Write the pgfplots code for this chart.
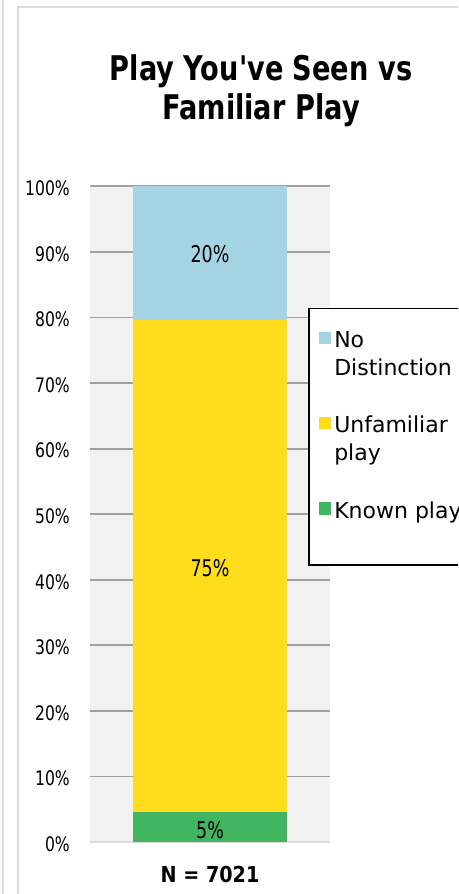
\documentclass[border=0pt]{standalone}
\usepackage{pgfplots}
\pgfplotsset{compat=1.18}
\usepackage{fontspec}
\setmainfont{DejaVu Sans}
\newfontfamily\tickfont{DejaVu Sans}[FakeStretch=0.78]
\newfontfamily\barfont{DejaVu Sans}[FakeStretch=0.76]
\newfontfamily\titlefont{DejaVu Sans}[FakeStretch=0.80]
\newfontfamily\nfont{DejaVu Sans}[FakeStretch=0.87]
\definecolor{cBlue}{HTML}{A5D5E4}
\definecolor{cYellow}{HTML}{FFDD1C}
\definecolor{cGreen}{HTML}{41B560}
\definecolor{cBack}{HTML}{F2F2F2}
\definecolor{cGrid}{HTML}{A0A0A0}
\definecolor{cFrame}{HTML}{DCDCDC}
\pgfplotsset{
  sqlegend/.style={legend image code/.code={\fill[##1] (0pt,3.5pt) rectangle (12.7pt,15.8pt);}},
  sqlegendlast/.style={legend image code/.code={\path (0pt,-24pt); \fill[##1] (0pt,3.5pt) rectangle (12.7pt,15.8pt);}},
}
\begin{document}
\begin{tikzpicture}[x=1pt,y=1pt]
\useasboundingbox (0,0) rectangle (458,894);
\clip (0,0) rectangle (458,894);
\draw[cFrame, line width=2pt] (3,0) -- (3,894);
\draw[cFrame, line width=2pt] (18,0) -- (18,887) -- (470,887);
\node[anchor=north, align=center, inner sep=0pt, font=\titlefont\bfseries\fontsize{34}{39}\selectfont] at (261,840) {Play You've Seen vs\\Familiar Play};
\begin{axis}[
  at={(90pt,52pt)}, anchor=south west,
  scale only axis, width=240pt, height=655.6pt,
  xmin=0, xmax=1, ymin=0, ymax=100,
  enlargelimits=false,
  ybar stacked, bar width=154pt,
  axis background/.style={fill=cBack},
  axis line style={draw=none},
  tick style={draw=none},
  ytick={10,20,...,100},
  extra y ticks={0},
  extra y tick style={ymajorgrids=true, grid style={color=cFrame, line width=2pt}},
  ymajorgrids, grid style={color=cGrid, line width=1.8pt},
  yticklabel={\pgfmathprintnumber{\tick}\%},
  /pgf/number format/assume math mode=true,
  yticklabel style={font=\tickfont\fontsize{20}{24}\selectfont, anchor=east, inner sep=0pt, xshift=-20pt, yshift=-2pt},
  xtick={0.5}, xticklabels={N = 7021},
  xticklabel style={font=\nfont\bfseries\fontsize{22}{26}\selectfont, anchor=north, inner sep=0pt, yshift=-24.4pt},
  reverse legend,
  legend style={at={(axis description cs:0.9096,0.8148)}, anchor=north west,
    draw=black, line width=1.5pt, fill=white,
    inner xsep=9.5pt, inner ysep=23pt, row sep=67pt, column sep=3pt,
    font=\fontsize{22}{27.5}\selectfont,
    cells={anchor=base west}, nodes={inner sep=0pt}},
]
\addplot[fill=cGreen, draw=none, sqlegendlast] coordinates {(0.5,4.5)};
\addplot[fill=cYellow, draw=none, sqlegend] coordinates {(0.5,75.1)};
\addplot[fill=cBlue, draw=none, sqlegend] coordinates {(0.5,20.4)};
\addlegendentry{Known play}
\addlegendentry{\vtop{\hbox{Unfamiliar}\hbox{play}}}
\addlegendentry{\vtop{\hbox{No}\hbox{Distinction}}}
\coordinate (lblB) at (axis cs:0.5,89.7);
\coordinate (lblY) at (axis cs:0.5,41.7);
\coordinate (lblG) at (axis cs:0.5,1.8);
\end{axis}
\node[font=\barfont\fontsize{23}{27}\selectfont, inner sep=0pt] at (lblB) {20\%};
\node[font=\barfont\fontsize{23}{27}\selectfont, inner sep=0pt] at (lblY) {75\%};
\node[font=\barfont\fontsize{23}{27}\selectfont, inner sep=0pt] at (lblG) {5\%};
\end{tikzpicture}
\end{document}
